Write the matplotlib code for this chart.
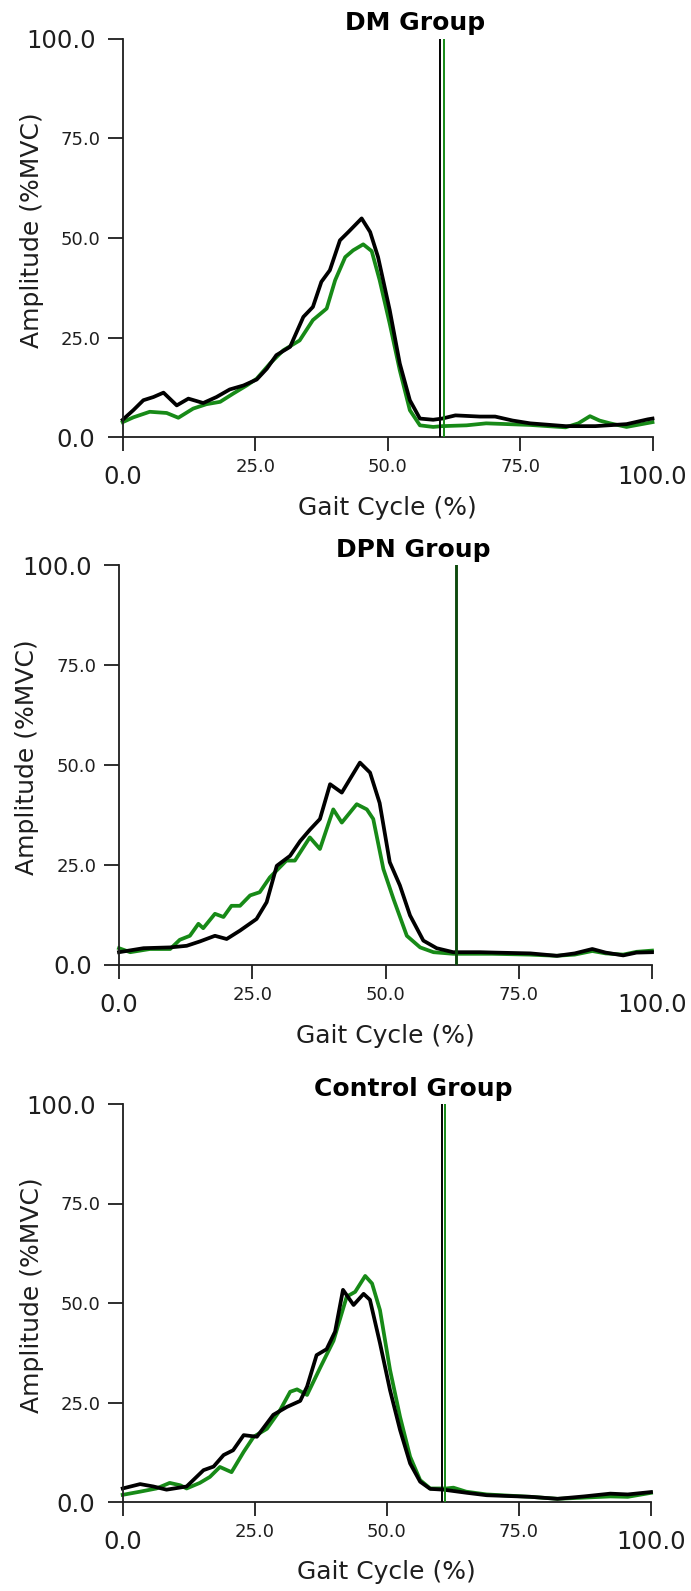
import matplotlib
matplotlib.use("Agg")
import matplotlib.pyplot as plt

# ---- data (gait cycle %, amplitude %MVC) ----
dm_black_x = [0, 2.0, 3.9, 5.8, 7.7, 10.2, 12.4, 15.2, 17.7, 20.2, 22.8, 25.3, 27.2, 29.0, 31.6,
              34.1, 35.9, 37.5, 39.1, 41.0, 42.6, 45.1, 46.7, 48.2, 50.4, 52.3, 54.2, 56.1, 58.6,
              60.3, 62.8, 67.4, 70.3, 73.6, 76.9, 83.6, 89.2, 95.1, 99.1, 100]
dm_black_y = [4.4, 6.8, 9.3, 10.1, 11.2, 8.0, 9.7, 8.6, 10.1, 12.0, 13.0, 14.5, 17.2, 20.6, 22.7,
              30.2, 32.7, 39.0, 41.9, 49.4, 51.5, 54.9, 51.5, 45.2, 31.9, 18.5, 9.3, 4.7, 4.4,
              4.7, 5.5, 5.2, 5.2, 4.2, 3.5, 2.8, 2.8, 3.3, 4.5, 4.7]
dm_green_x = [0, 2.0, 5.1, 8.3, 10.5, 13.3, 15.8, 18.4, 20.9, 23.4, 25.3, 27.8, 30.3, 33.4, 35.9,
              38.5, 40.1, 42.0, 43.5, 45.4, 47.0, 48.5, 50.4, 52.3, 54.2, 56.1, 58.6, 60.3, 64.9,
              68.6, 76.9, 83.6, 86.0, 88.2, 90.0, 92.0, 95.1, 100]
dm_green_y = [3.8, 5.0, 6.4, 6.1, 4.9, 7.2, 8.3, 8.9, 11.0, 13.0, 14.7, 18.5, 21.8, 24.3, 29.4,
              32.3, 39.4, 45.2, 46.9, 48.4, 46.7, 39.4, 28.5, 16.8, 6.8, 3.0, 2.6, 2.8, 3.0,
              3.5, 3.1, 2.5, 3.5, 5.3, 4.2, 3.5, 2.6, 3.8]

dpn_black_x = [0, 4.6, 9.6, 12.7, 15.2, 18.0, 20.2, 22.7, 25.8, 27.7, 29.6, 32.1, 34.0, 35.8, 37.7,
               39.6, 41.8, 45.2, 47.1, 48.9, 50.8, 52.7, 54.6, 57.1, 59.6, 62.7, 67.7, 70.6, 77.2,
               82.2, 85.5, 88.8, 91.3, 94.6, 97.1, 100]
dpn_black_y = [3.2, 4.2, 4.4, 4.8, 5.9, 7.3, 6.5, 8.6, 11.5, 15.7, 24.8, 27.3, 31.0, 33.8, 36.5,
               45.2, 43.1, 50.6, 48.1, 40.5, 25.7, 19.9, 12.4, 6.1, 4.2, 3.2, 3.2, 3.1, 2.9,
               2.3, 2.9, 4.0, 3.1, 2.4, 3.1, 3.2]
dpn_green_x = [0, 2.1, 5.8, 9.6, 11.4, 13.3, 14.9, 15.8, 18.0, 19.6, 21.1, 22.7, 24.6, 26.4, 28.3,
               31.4, 33.0, 35.8, 37.7, 40.2, 41.8, 44.6, 46.5, 47.7, 49.6, 51.5, 54.0, 56.5, 59.0,
               62.7, 70.0, 77.0, 82.0, 85.5, 88.8, 91.3, 94.6, 97.1, 100]
dpn_green_y = [4.2, 3.2, 4.0, 4.0, 6.3, 7.3, 10.3, 9.2, 12.8, 12.0, 14.8, 14.8, 17.4, 18.2, 21.9,
               26.1, 26.1, 31.9, 29.0, 38.9, 35.6, 40.2, 38.9, 36.5, 24.0, 16.5, 7.3, 4.4, 3.2,
               2.8, 2.8, 2.6, 2.3, 2.6, 3.5, 2.9, 2.6, 3.3, 3.6]

ctl_black_x = [0, 3.3, 5.8, 8.3, 12.1, 15.3, 17.2, 19.1, 20.9, 22.9, 25.4, 28.5, 31.1, 33.6, 34.9,
               36.7, 38.6, 40.2, 41.7, 43.7, 45.6, 46.8, 48.7, 50.6, 52.5, 54.4, 56.3, 58.2, 60.7,
               65.2, 68.9, 77.2, 82.3, 87.3, 92.3, 95.6, 100]
ctl_black_y = [3.4, 4.5, 3.9, 3.1, 3.9, 8.0, 8.9, 11.8, 13.0, 16.8, 16.4, 21.9, 23.9, 25.4, 29.0,
               36.9, 38.4, 42.8, 53.3, 49.5, 52.3, 50.8, 39.9, 28.1, 18.1, 9.7, 5.1, 3.3, 3.1,
               2.3, 1.7, 1.3, 0.8, 1.4, 2.1, 1.9, 2.5]
ctl_green_x = [0, 3.3, 6.4, 8.9, 10.9, 12.1, 14.6, 16.5, 18.4, 20.6, 22.9, 24.8, 27.3, 29.8, 31.7,
               33.0, 34.9, 37.4, 39.9, 42.4, 44.0, 45.9, 47.2, 48.7, 50.6, 52.5, 54.4, 56.3, 58.2,
               61.3, 62.6, 65.0, 68.9, 77.2, 82.3, 92.3, 95.6, 100]
ctl_green_y = [1.8, 2.6, 3.4, 4.8, 4.2, 3.4, 4.8, 6.3, 8.8, 7.5, 12.6, 16.4, 18.4, 23.1, 27.7,
               28.3, 26.9, 33.8, 40.5, 51.6, 52.8, 56.8, 54.9, 48.2, 33.2, 21.4, 11.4, 5.5, 3.4,
               3.4, 3.6, 2.6, 1.9, 1.3, 0.8, 1.4, 1.3, 2.3]

# toe-off markers (black group, green group)
dm_toe_off = [59.8, 60.7]
dpn_toe_off = [63.3, 63.3]
ctl_toe_off = [60.4, 61.1]

titles = ["DM Group", "DPN Group", "Control Group"]

BLACK = "#000000"
GREEN = "#178a17"
TXT = "#1e1e1e"
W, H = 691, 1591


def px_axes(left, right, top, bottom):
    return [left / W, (H - bottom) / H, (right - left) / W, (bottom - top) / H]


def draw_panel(ax, title, bx, by, gx, gy, toe, title_x):
    ax.plot(gx, gy, color=GREEN, lw=2.7, clip_on=False, zorder=2)
    ax.plot(bx, by, color=BLACK, lw=2.7, clip_on=False, zorder=2.5)
    if toe[0] == toe[1]:
        # both groups at the same point: the lines sit on top of each other
        ax.axvline(toe[0], color=BLACK, lw=2.0, zorder=3)
        ax.axvline(toe[1], color=GREEN, lw=2.0, alpha=0.55, zorder=3.5)
    else:
        ax.axvline(toe[0], color=BLACK, lw=1.4, zorder=3)
        ax.axvline(toe[1], color=GREEN, lw=1.4, zorder=3.5)

    ax.set_xlim(0, 100); ax.set_ylim(0, 100)
    for s in ["top", "right"]:
        ax.spines[s].set_visible(False)
    for s in ["left", "bottom"]:
        ax.spines[s].set_linewidth(1.3); ax.spines[s].set_color(TXT)

    ax.set_xticks([0, 100], labels=["0.0", "100.0"])
    ax.set_xticks([25, 50, 75], labels=["25.0", "50.0", "75.0"], minor=True)
    ax.set_yticks([0, 100], labels=["0.0", "100.0"])
    ax.set_yticks([25, 50, 75], labels=["25.0", "50.0", "75.0"], minor=True)
    ax.tick_params(axis="x", which="both", length=10, width=1.3, color=TXT, labelcolor=TXT)
    ax.tick_params(axis="y", which="both", length=11, width=1.3, color=TXT, labelcolor=TXT)
    ax.tick_params(axis="x", which="major", labelsize=17.5, pad=10)
    ax.tick_params(axis="x", which="minor", labelsize=13, pad=5)
    ax.tick_params(axis="y", which="major", labelsize=17.5, pad=8.5)
    ax.tick_params(axis="y", which="minor", labelsize=13, pad=5)

    ax.set_xlabel("Gait Cycle (%)", fontsize=18, color=TXT, va="center")
    ax.xaxis.set_label_coords(0.5, -0.177)
    ax.set_ylabel("Amplitude (%MVC)", fontsize=18, color=TXT, va="center")
    ax.yaxis.set_label_coords(-0.172, 0.52)
    ax.text(title_x, 1.038, title, transform=ax.transAxes, ha="center", va="center",
            fontsize=18, fontweight="bold", color=BLACK)


fig = plt.figure(figsize=(W / 100, H / 100), dpi=100)
ax1 = fig.add_axes(px_axes(122.7, 652.5, 38.6, 437.3))
ax2 = fig.add_axes(px_axes(119, 652, 565, 965))
ax3 = fig.add_axes(px_axes(122.7, 651, 1104, 1502))

draw_panel(ax1, titles[0], dm_black_x, dm_black_y, dm_green_x, dm_green_y, dm_toe_off, 0.552)
draw_panel(ax2, titles[1], dpn_black_x, dpn_black_y, dpn_green_x, dpn_green_y, dpn_toe_off, 0.552)
draw_panel(ax3, titles[2], ctl_black_x, ctl_black_y, ctl_green_x, ctl_green_y, ctl_toe_off, 0.55)

fig.savefig("out.png", dpi=100, facecolor="white")
